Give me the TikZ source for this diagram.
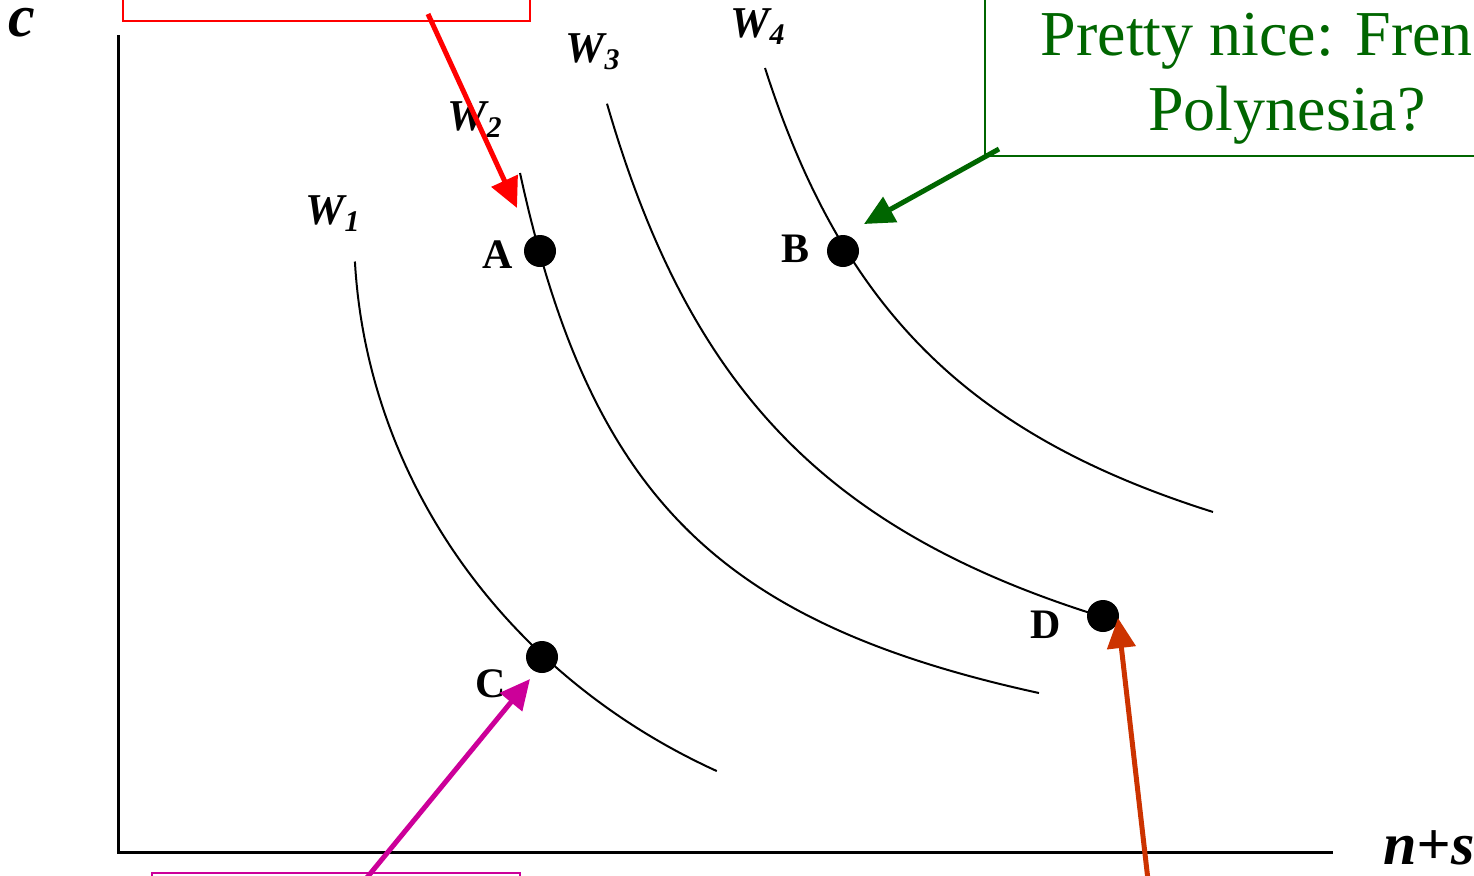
\documentclass[tikz,border=0pt]{standalone}
\usepackage{fontspec}
\setmainfont{Liberation Serif}
\usetikzlibrary{arrows.meta}
\definecolor{nicegreen}{RGB}{0,102,0}
\definecolor{hotpink}{RGB}{204,0,153}
\definecolor{rust}{RGB}{204,51,0}
\tikzset{
  curve/.style={black,line width=1pt,samples=120},
  dot/.style={circle,fill=black,inner sep=0pt,minimum size=16pt},
  ptlab/.style={font=\fontsize{21}{25}\selectfont\bfseries,anchor=base},
  wlab/.style={font=\fontsize{22}{26}\selectfont\bfseries\itshape,anchor=base west,inner sep=0pt},
  axlab/.style={font=\fontsize{30}{34}\selectfont\bfseries\itshape,anchor=base},
  pointer/.style={line width=2.5pt,-{Triangle[length=15pt,width=14pt]}},
}
\newcommand{\wsub}[1]{\raisebox{-0.35ex}{\fontsize{15}{15}\selectfont #1}}
\begin{document}
\begin{tikzpicture}[x=0.5pt,y=-0.5pt]
\useasboundingbox (0,0) rectangle (1474,875);
\clip (0,0) rectangle (1474,875);
% axes
\draw[line width=1.5pt] (118,35) -- (118,852) -- (1333,852);
\node[axlab] (c) at (22,36) {c};
\node[axlab] (ns) at (1429,864) {n+s};
% indifference curves
\draw[curve,domain=3:64] plot ({1000-646*cos(\x)},{230+602*sin(\x)});
\draw[curve,domain=520:1039] plot (\x,{837.8-960.64/((\x-375.5)/100)});
\draw[curve,domain=607:1088] plot (\x,{836.5-1553.58/((\x-395)/100)});
\draw[curve,domain=765:1213] plot (\x,{719-1359.94/((\x-556.1)/100)});
\node[wlab] (w1) at (305,224) {W\wsub{1}};
\node[wlab] (w2) at (447,130) {W\wsub{2}};
\node[wlab] (w3) at (565,62) {W\wsub{3}};
\node[wlab] (w4) at (730,37) {W\wsub{4}};
% the four points
\node[dot] (A) at (540,251) {};
\node[dot] (B) at (843,251) {};
\node[dot] (C) at (542,657) {};
\node[dot] (D) at (1103,616) {};
\node[ptlab] (la) at (498,268) {A};
\node[ptlab] (lb) at (796,262) {B};
\node[ptlab] (lc) at (491,697) {C};
\node[ptlab] (ld) at (1046,638) {D};
% boxes running off the slide
\draw[red,line width=1pt] (123,-80) rectangle (530,21);
\draw[nicegreen,line width=1pt] (985,-20) rectangle (1600,156);
\draw[hotpink,line width=1pt] (152,873) rectangle (520,960);
\node[nicegreen,font=\fontsize{32}{37.5}\selectfont,align=center,inner sep=0pt,anchor=north] (nice) at (1287,11) {Pretty nice: French\\Polynesia?};
% pointers
\coordinate (r0) at (428,14);
\coordinate (r1) at (517,208);
\coordinate (g0) at (999,149);
\coordinate (g1) at (864,224);
\coordinate (p0) at (365,880);
\coordinate (p1) at (530,679);
\coordinate (o0) at (1148,880);
\coordinate (o1) at (1118,618);
\draw[pointer,red] (r0) -- (r1);
\draw[pointer,nicegreen] (g0) -- (g1);
\draw[pointer,hotpink] (p0) -- (p1);
\draw[pointer,rust] (o0) -- (o1);
\end{tikzpicture}
\end{document}
